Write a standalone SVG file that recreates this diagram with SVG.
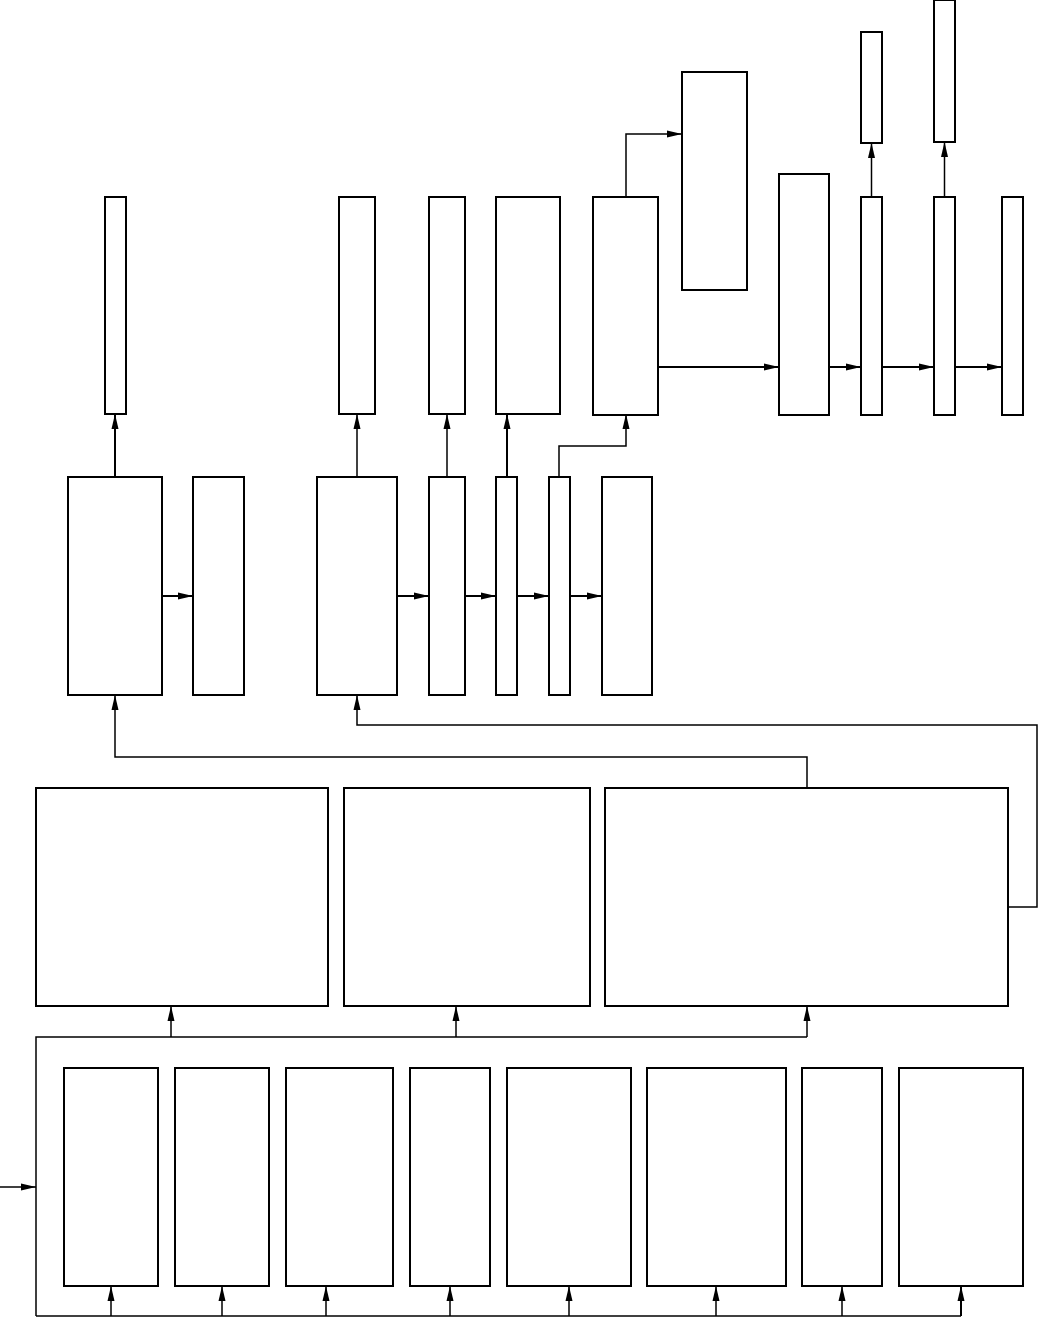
<svg xmlns="http://www.w3.org/2000/svg" width="1039" height="1318" viewBox="0 0 1039 1318">
<style>
.n{fill:#fff;stroke:#000;stroke-width:2}
.c{fill:none;stroke:#000;stroke-width:1.5}
.t{stroke-width:2}
</style>
<defs>
<marker id="ah" markerUnits="userSpaceOnUse" markerWidth="15" markerHeight="8" refX="15" refY="4" orient="auto">
<path d="M0,0.5 L15,4 L0,7.5 z" fill="#000"/>
</marker>
</defs>
<rect width="1039" height="1318" fill="#fff"/>
<g id="connectors">
<path class="c t" d="M115,477 V414" marker-end="url(#ah)"/>
<path class="c" d="M357,477 V414" marker-end="url(#ah)"/>
<path class="c" d="M447,477 V414" marker-end="url(#ah)"/>
<path class="c t" d="M507,477 V414" marker-end="url(#ah)"/>
<path class="c" d="M559,477 V446 H626 V414" marker-end="url(#ah)"/>
<path class="c" d="M626,197 V134 H682" marker-end="url(#ah)"/>
<path class="c t" d="M658,367 H779" marker-end="url(#ah)"/>
<path class="c t" d="M829,367 H861" marker-end="url(#ah)"/>
<path class="c t" d="M882,367 H934" marker-end="url(#ah)"/>
<path class="c t" d="M955,367 H1002" marker-end="url(#ah)"/>
<path class="c" d="M871.5,197 V143" marker-end="url(#ah)"/>
<path class="c" d="M944.5,197 V142" marker-end="url(#ah)"/>
<path class="c t" d="M162,596 H193" marker-end="url(#ah)"/>
<path class="c t" d="M397,596 H429" marker-end="url(#ah)"/>
<path class="c t" d="M465,596 H496" marker-end="url(#ah)"/>
<path class="c t" d="M517,596 H549" marker-end="url(#ah)"/>
<path class="c t" d="M570,596 H602" marker-end="url(#ah)"/>
<path class="c" d="M807,788 V757 H115 V695" marker-end="url(#ah)"/>
<path class="c" d="M1008,907 H1037 V725 H357 V695" marker-end="url(#ah)"/>
<path class="c" d="M0,1187 H36" marker-end="url(#ah)"/>
<path class="c" d="M36,1316 V1037 H807"/>
<path class="c" d="M171,1037 V1006" marker-end="url(#ah)"/>
<path class="c" d="M456,1037 V1006" marker-end="url(#ah)"/>
<path class="c" d="M807,1037 V1006" marker-end="url(#ah)"/>
<path class="c" d="M36,1316 H961"/>
<path class="c" d="M111,1316 V1286" marker-end="url(#ah)"/>
<path class="c" d="M222,1316 V1286" marker-end="url(#ah)"/>
<path class="c" d="M326,1316 V1286" marker-end="url(#ah)"/>
<path class="c" d="M450,1316 V1286" marker-end="url(#ah)"/>
<path class="c" d="M569,1316 V1286" marker-end="url(#ah)"/>
<path class="c" d="M716,1316 V1286" marker-end="url(#ah)"/>
<path class="c" d="M842,1316 V1286" marker-end="url(#ah)"/>
<path class="c t" d="M961,1316 V1286" marker-end="url(#ah)"/>
</g>
<g id="n_a1"><rect class="n" x="105" y="197" width="21" height="217"/></g>
<g id="n_b1"><rect class="n" x="339" y="197" width="36" height="217"/></g>
<g id="n_c1"><rect class="n" x="429" y="197" width="36" height="217"/></g>
<g id="n_d1"><rect class="n" x="496" y="197" width="64" height="217"/></g>
<g id="n_e1"><rect class="n" x="593" y="197" width="65" height="218"/></g>
<g id="n_f"><rect class="n" x="682" y="72" width="65" height="218"/></g>
<g id="n_g"><rect class="n" x="779" y="174" width="50" height="241"/></g>
<g id="n_h"><rect class="n" x="861" y="197" width="21" height="218"/></g>
<g id="n_h2"><rect class="n" x="861" y="32" width="21" height="111"/></g>
<g id="n_i"><rect class="n" x="934" y="197" width="21" height="218"/></g>
<g id="n_i2"><rect class="n" x="934" y="0" width="21" height="142"/></g>
<g id="n_j"><rect class="n" x="1002" y="197" width="21" height="218"/></g>
<g id="n_k"><rect class="n" x="68" y="477" width="94" height="218"/></g>
<g id="n_l"><rect class="n" x="193" y="477" width="51" height="218"/></g>
<g id="n_m"><rect class="n" x="317" y="477" width="80" height="218"/></g>
<g id="n_n"><rect class="n" x="429" y="477" width="36" height="218"/></g>
<g id="n_o"><rect class="n" x="496" y="477" width="21" height="218"/></g>
<g id="n_p"><rect class="n" x="549" y="477" width="21" height="218"/></g>
<g id="n_q"><rect class="n" x="602" y="477" width="50" height="218"/></g>
<g id="n_s"><rect class="n" x="36" y="788" width="292" height="218"/></g>
<g id="n_t"><rect class="n" x="344" y="788" width="246" height="218"/></g>
<g id="n_r"><rect class="n" x="605" y="788" width="403" height="218"/></g>
<g id="n_u1"><rect class="n" x="64" y="1068" width="94" height="218"/></g>
<g id="n_u2"><rect class="n" x="175" y="1068" width="94" height="218"/></g>
<g id="n_u3"><rect class="n" x="286" y="1068" width="107" height="218"/></g>
<g id="n_u4"><rect class="n" x="410" y="1068" width="80" height="218"/></g>
<g id="n_u5"><rect class="n" x="507" y="1068" width="124" height="218"/></g>
<g id="n_u6"><rect class="n" x="647" y="1068" width="139" height="218"/></g>
<g id="n_u7"><rect class="n" x="802" y="1068" width="80" height="218"/></g>
<g id="n_u8"><rect class="n" x="899" y="1068" width="124" height="218"/></g>
</svg>
